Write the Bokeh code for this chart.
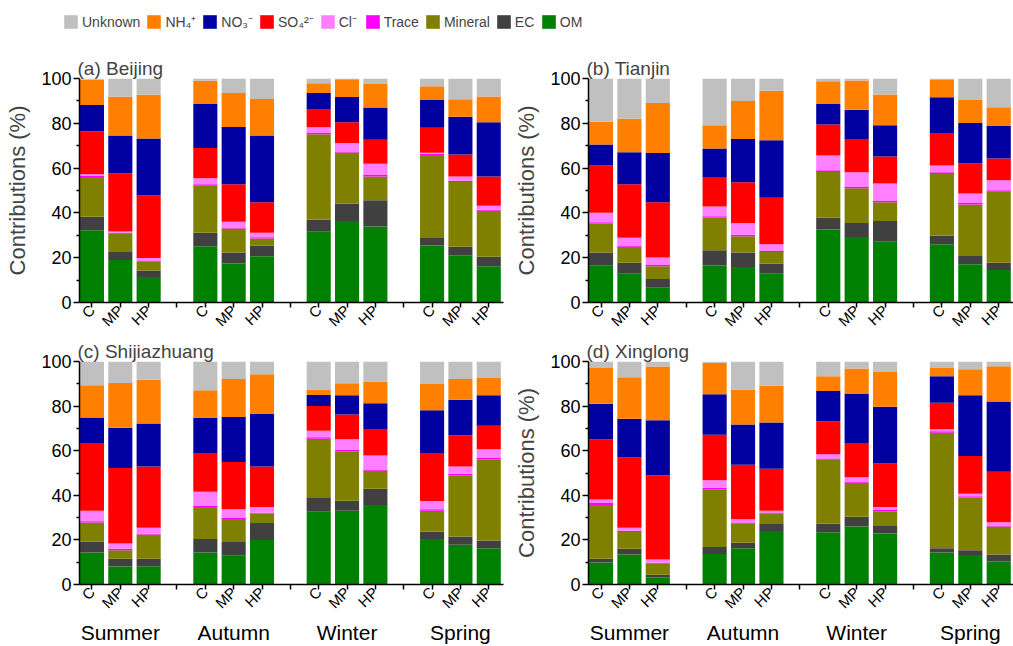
import math

from bokeh.embed import file_html
from bokeh.layouts import column, row
from bokeh.models import (ColumnDataSource, FixedTicker, Legend, LegendItem,
                          LinearAxis, Range1d)
from bokeh.plotting import figure
from bokeh.resources import INLINE

# ---- categories -----------------------------------------------------------
SEASONS = ["Summer", "Autumn", "Winter", "Spring"]
PERIODS = ["C", "MP", "HP"]

# stacking order, bottom to top
SPECIES = ["OM", "EC", "Mineral", "Trace", "Cl", "SO4", "NO3", "NH4", "Unknown"]
LEGEND_ORDER = ["Unknown", "NH4", "NO3", "SO4", "Cl", "Trace", "Mineral", "EC", "OM"]
LEGEND_LABELS = {
    "Unknown": "Unknown", "NH4": "NH₄⁺", "NO3": "NO₃⁻", "SO4": "SO₄²⁻",
    "Cl": "Cl⁻", "Trace": "Trace", "Mineral": "Mineral", "EC": "EC", "OM": "OM",
}
COLORS = {
    "Unknown": "#c0c0c0", "NH4": "#ff8000", "NO3": "#0000a0", "SO4": "#ff0000",
    "Cl": "#ff80ff", "Trace": "#ff00ff", "Mineral": "#808000", "EC": "#404040",
    "OM": "#008000",
}

# ---- contributions (%), order: Summer C/MP/HP, Autumn ..., Winter ..., Spring ...
BEIJING = {
    "OM":      [32.2, 19.0, 11.4, 25.1, 17.4, 20.6, 31.6, 36.4, 33.9, 25.4, 21.1, 16.2],
    "EC":      [6.1, 3.9, 2.9, 6.0, 4.9, 4.8, 5.3, 7.8, 11.8, 3.4, 3.8, 4.2],
    "Mineral": [17.7, 7.8, 4.1, 21.0, 10.7, 3.2, 38.2, 22.8, 10.6, 37.1, 28.9, 20.6],
    "Trace":   [0.5, 0.4, 0.3, 0.7, 0.5, 0.5, 0.6, 0.4, 0.6, 0.5, 0.5, 0.4],
    "Cl":      [0.7, 0.6, 1.2, 2.7, 2.5, 2.0, 2.5, 3.8, 5.0, 0.4, 2.0, 1.8],
    "SO4":     [19.2, 26.0, 27.9, 13.5, 16.8, 13.6, 8.2, 9.3, 10.8, 11.2, 9.8, 13.1],
    "NO3":     [11.8, 16.8, 25.4, 19.6, 25.5, 29.8, 7.1, 11.2, 14.3, 12.4, 16.8, 24.2],
    "NH4":     [11.2, 17.4, 19.6, 10.4, 15.2, 16.4, 4.4, 8.0, 10.5, 6.1, 7.8, 11.5],
    "Unknown": [0.6, 8.1, 7.2, 1.0, 6.5, 9.1, 2.1, 0.3, 2.5, 3.5, 9.3, 8.0],
}
TIANJIN = {
    "OM":      [16.4, 12.8, 6.6, 16.5, 15.8, 12.8, 32.6, 29.2, 27.1, 26.0, 17.1, 14.5],
    "EC":      [5.9, 5.0, 3.9, 6.8, 6.5, 4.6, 5.2, 6.3, 9.3, 3.8, 3.7, 3.3],
    "Mineral": [13.0, 7.1, 5.7, 14.6, 7.3, 5.2, 20.5, 15.5, 8.3, 27.6, 22.9, 31.6],
    "Trace":   [0.5, 0.5, 0.5, 0.6, 0.6, 0.6, 0.7, 0.8, 0.6, 0.7, 0.7, 0.7],
    "Cl":      [4.3, 3.5, 3.4, 4.4, 5.3, 2.8, 6.6, 6.3, 7.8, 3.1, 4.3, 4.5],
    "SO4":     [21.1, 23.9, 24.6, 13.1, 18.2, 20.8, 13.9, 14.9, 12.1, 14.5, 13.4, 9.7],
    "NO3":     [9.3, 14.3, 22.0, 12.7, 19.3, 25.6, 9.1, 13.1, 13.9, 15.9, 18.0, 14.5],
    "NH4":     [10.2, 14.9, 22.4, 10.4, 17.0, 22.1, 10.2, 13.0, 13.8, 7.7, 10.3, 8.4],
    "Unknown": [19.3, 18.0, 10.9, 20.9, 10.0, 5.5, 1.2, 0.9, 7.1, 0.7, 9.6, 12.8],
}
SHIJIAZHUANG = {
    "OM":      [14.4, 8.1, 8.2, 14.4, 12.9, 19.9, 32.6, 33.1, 35.6, 20.4, 17.8, 16.3],
    "EC":      [4.9, 3.5, 3.3, 6.0, 6.5, 7.7, 6.5, 4.5, 7.3, 3.3, 3.7, 3.4],
    "Mineral": [8.5, 3.8, 10.9, 14.3, 10.0, 4.2, 26.3, 22.1, 8.1, 9.4, 27.5, 36.5],
    "Trace":   [0.6, 0.6, 0.4, 0.7, 0.6, 0.4, 0.6, 0.7, 0.6, 0.7, 0.7, 0.7],
    "Cl":      [4.7, 2.4, 2.6, 6.2, 3.7, 2.5, 3.0, 4.7, 6.3, 3.7, 3.2, 3.7],
    "SO4":     [30.4, 33.8, 27.5, 17.4, 21.2, 18.2, 11.1, 11.1, 11.8, 21.5, 14.0, 10.6],
    "NO3":     [11.4, 18.1, 19.3, 15.7, 20.2, 23.6, 4.9, 8.7, 11.6, 19.1, 16.0, 13.7],
    "NH4":     [14.5, 20.1, 19.6, 12.4, 17.0, 17.8, 2.4, 5.4, 9.7, 11.8, 9.2, 7.7],
    "Unknown": [10.6, 9.6, 8.2, 12.9, 7.9, 5.7, 12.6, 9.7, 9.0, 10.1, 7.9, 7.4],
}
XINGLONG = {
    "OM":      [9.9, 13.4, 3.2, 13.7, 16.3, 24.0, 23.4, 26.0, 22.9, 14.3, 13.2, 10.3],
    "EC":      [1.7, 2.6, 1.2, 3.1, 2.4, 3.5, 4.0, 4.4, 3.7, 2.0, 2.2, 3.2],
    "Mineral": [24.1, 7.5, 4.9, 25.7, 8.5, 4.3, 28.5, 15.2, 6.2, 51.8, 23.6, 12.5],
    "Trace":   [0.8, 0.6, 0.4, 0.9, 0.4, 0.3, 0.4, 0.4, 0.6, 0.6, 0.6, 0.5],
    "Cl":      [1.6, 1.3, 1.5, 3.4, 1.7, 1.0, 2.1, 2.1, 1.3, 0.9, 1.1, 1.4],
    "SO4":     [26.9, 31.5, 37.8, 20.4, 24.4, 18.8, 14.8, 15.3, 19.6, 11.9, 16.9, 22.7],
    "NO3":     [16.0, 17.4, 24.7, 18.1, 18.1, 20.7, 13.6, 22.0, 25.4, 11.9, 27.3, 31.5],
    "NH4":     [16.1, 18.6, 24.1, 14.1, 15.6, 16.5, 6.6, 11.5, 15.6, 3.7, 11.6, 15.8],
    "Unknown": [2.9, 7.1, 2.2, 0.6, 12.6, 10.9, 6.6, 3.1, 4.7, 2.9, 3.5, 2.1],
}

FONT = "Liberation Sans"

# bar slots: three bars per season, one empty slot between seasons
GROUP_STEP = len(PERIODS) + 1
X_POS = [g * GROUP_STEP + i for g in range(len(SEASONS)) for i in range(len(PERIODS))]
SEP_POS = [g * GROUP_STEP + len(PERIODS) for g in range(len(SEASONS) - 1)]
SEASON_POS = [g * GROUP_STEP + 1 for g in range(len(SEASONS))]


def make_panel(title, data, width, height, border_left, border_right,
               border_top, border_bottom, y_label, seasons_axis):
    p = figure(width=width, height=height, toolbar_location=None,
               output_backend="svg",
               x_range=Range1d(-0.44, X_POS[-1] + 0.52), y_range=Range1d(0, 100),
               min_border_left=border_left, min_border_right=border_right,
               min_border_top=border_top, min_border_bottom=border_bottom)
    p.outline_line_color = None
    p.grid.visible = False
    p.background_fill_color = "white"

    src = dict(x=X_POS)
    src.update({k: data[k] for k in SPECIES})
    p.vbar_stack(SPECIES, x="x", width=0.85, source=ColumnDataSource(src),
                 fill_color=[COLORS[k] for k in SPECIES], line_color=None)

    p.title.text = title
    p.title.text_font = FONT
    p.title.text_font_size = "19px"
    p.title.text_font_style = "normal"
    p.title.text_line_height = 1.0
    p.title.align = "left"
    p.title.offset = -2
    p.title.standoff = 0

    # y axis
    ya = p.yaxis[0]
    ya.ticker = FixedTicker(ticks=[0, 20, 40, 60, 80, 100],
                            minor_ticks=[10, 30, 50, 70, 90])
    ya.major_tick_out = 6
    ya.major_tick_in = 0
    ya.minor_tick_out = 3
    ya.minor_tick_in = 0
    ya.axis_line_width = 1.5
    ya.major_tick_line_width = 1.5
    ya.minor_tick_line_width = 1.5
    ya.major_label_text_font = FONT
    ya.major_label_text_font_size = "18px"
    ya.major_label_text_color = "black"
    ya.major_label_standoff = 2
    if y_label:
        ya.axis_label = "Contributions (%)"
        ya.axis_label_text_font = FONT
        ya.axis_label_text_font_size = "22px"
        ya.axis_label_text_font_style = "normal"
        ya.axis_label_standoff = 8

    # x axis with period labels
    xa = p.xaxis[0]
    ticks = sorted(X_POS + SEP_POS)
    xa.ticker = FixedTicker(ticks=ticks, minor_ticks=[])
    overrides = {t: "" for t in SEP_POS}
    for i, x in enumerate(X_POS):
        overrides[x] = PERIODS[i % len(PERIODS)]
    xa.major_label_overrides = overrides
    xa.major_label_orientation = math.pi / 4
    xa.major_label_text_font = FONT
    xa.major_label_text_font_size = "15px"
    xa.major_label_text_line_height = 0.9
    xa.major_label_text_color = "black"
    xa.major_label_standoff = 0
    xa.major_tick_out = 5
    xa.major_tick_in = 0
    xa.axis_line_width = 1.5
    xa.major_tick_line_width = 1.5

    if seasons_axis:
        sa = LinearAxis(ticker=FixedTicker(ticks=SEASON_POS, minor_ticks=[]),
                        major_label_overrides={x: s for x, s in zip(SEASON_POS, SEASONS)})
        sa.axis_line_color = None
        sa.major_tick_line_color = None
        sa.major_tick_out = 0
        sa.major_label_standoff = 0
        sa.major_label_text_font = FONT
        sa.major_label_text_font_size = "21px"
        sa.major_label_text_line_height = 1.0
        sa.major_label_text_color = "black"
        p.add_layout(sa, "below")
    return p


# legend strip
leg = figure(width=1013, height=40, toolbar_location=None, output_backend="svg",
             x_range=Range1d(0, 1), y_range=Range1d(0, 1),
             x_axis_type=None, y_axis_type=None, min_border=0)
leg.outline_line_color = None
leg.grid.visible = False
items = []
for k in LEGEND_ORDER:
    # zero-height bar: only its legend swatch is seen
    r = leg.vbar(x=[0], top=[0], bottom=[0], width=0, fill_color=COLORS[k],
                 line_color=None)
    items.append(LegendItem(label=LEGEND_LABELS[k], renderers=[r]))
legend = Legend(items=items, orientation="horizontal", location=(62, 9),
                glyph_width=17, glyph_height=17, label_standoff=3, spacing=5,
                padding=0, margin=0, border_line_color=None,
                background_fill_alpha=0, label_text_font=FONT,
                label_text_font_size="14px", label_height=17)
leg.add_layout(legend)

p1 = make_panel("(a) Beijing", BEIJING, 506, 298, 79, 3, 38, 34, True, False)
p2 = make_panel("(b) Tianjin", TIANJIN, 507, 298, 82, 0, 38, 34, True, False)
p3 = make_panel("(c) Shijiazhuang", SHIJIAZHUANG, 506, 308, 79, 3, 23, 58, False, True)
p4 = make_panel("(d) Xinglong", XINGLONG, 507, 308, 82, 0, 23, 58, True, True)

layout = column(leg, row(p1, p2), row(p3, p4))

with open("out.html", "w") as f:
    f.write(file_html(layout, INLINE))
